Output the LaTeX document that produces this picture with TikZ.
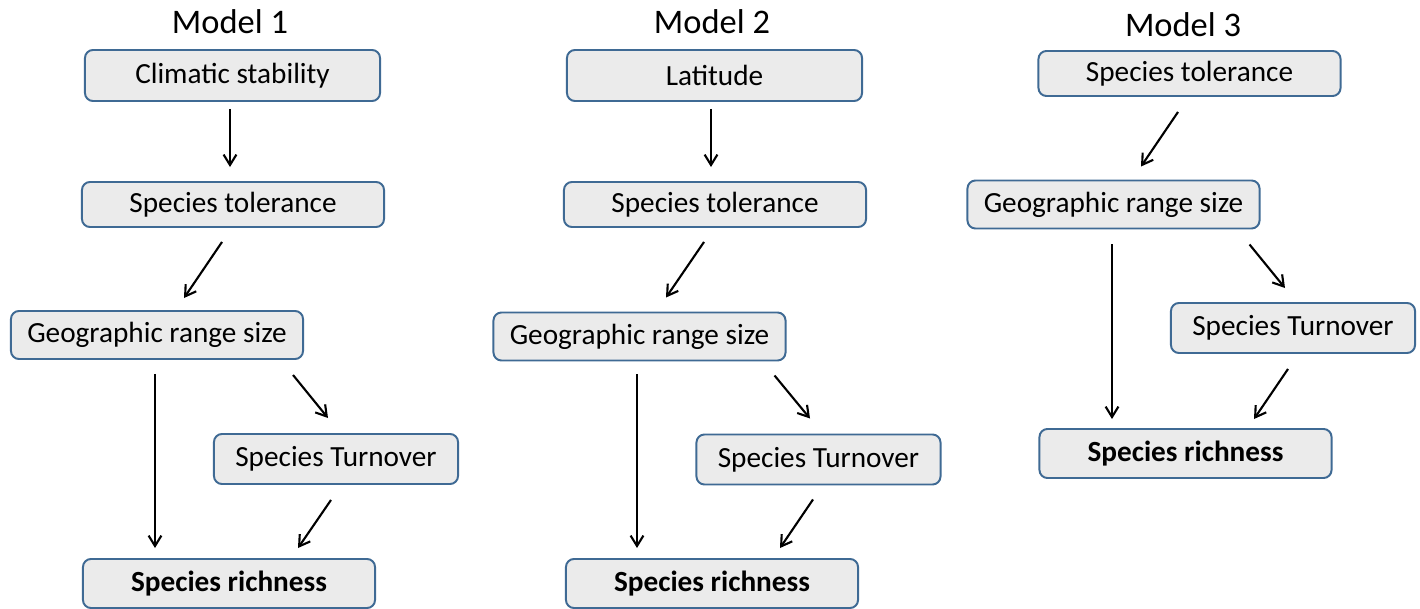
\documentclass[tikz,border=0pt]{standalone}
\usepackage{fontspec}
\setmainfont{Carlito}
\usetikzlibrary{arrows.meta}
\definecolor{boxfill}{HTML}{EBEBEB}
\definecolor{boxline}{HTML}{3F6A94}

\begin{document}
\begin{tikzpicture}[
x=0.025cm, y=-0.025cm,
var/.style={draw=boxline, fill=boxfill, line width=1.4pt, rounded corners=0.2cm,
  inner sep=0pt, font=\fontsize{20.8}{25}\selectfont}, % one variable box
tolbox/.style={var, minimum width=7.55cm, minimum height=1.125cm}, % tolerance boxes
driverbox/.style={var, minimum width=7.375cm, minimum height=1.275cm}, % first driver
rangebox/.style={var, minimum width=7.3cm, minimum height=1.2cm}, % range size boxes
turnbox/.style={var, minimum width=6.1cm, minimum height=1.25cm}, % turnover boxes
richbox/.style={var, minimum width=7.3cm, minimum height=1.225cm, font=\fontsize{20.8}{25}\selectfont\bfseries}, % response
modeltitle/.style={font=\fontsize{24.5}{29}\selectfont}, % model heading
arr/.style={line width=1.5pt, -{Straight Barb[length=2.6mm,width=3.2mm]}} % effect
]
\useasboundingbox (0,0) rectangle (1420,609);

% Model 1
\node[modeltitle] (title1) at (230,22) {Model 1};
\node[driverbox] (clim1) at (232.5,75.5) {Climatic stability};
\node[tolbox] (tol1) at (233,204.5) {Species tolerance};
\node[rangebox] (geo1) at (157,335) {Geographic range size};
\node[turnbox] (turn1) at (336,459) {Species Turnover};
\node[richbox] (rich1) at (229,583.5) {Species richness};

\draw[arr] ([shift={(-2.5,7)}]clim1.south) -- ([shift={(-3,-14)}]tol1.north);
\draw[arr] ([shift={(-11,14)}]tol1.south) -- ([shift={(27,-12)}]geo1.north);
\draw[arr] ([shift={(-2,14)}]geo1.south) -- ([shift={(-74,-10)}]rich1.north);
\draw[arr] ([shift={(-11,15)}]geo1.south east) -- ([shift={(-8,-15)}]turn1.north);
\draw[arr] ([shift={(-5,15)}]turn1.south) -- ([shift={(69,-10)}]rich1.north);

% Model 2
\node[modeltitle] (title2) at (712,22) {Model 2};
\node[driverbox] (lat2) at (714.5,75.5) {Latitude};
\node[tolbox] (tol2) at (715,204.5) {Species tolerance};
\node[rangebox] (geo2) at (639.5,336.5) {Geographic range size};
\node[turnbox] (turn2) at (818.5,459.5) {Species Turnover};
\node[richbox] (rich2) at (712,583.5) {Species richness};

\draw[arr] ([shift={(-3.5,7)}]lat2.south) -- ([shift={(-4,-14)}]tol2.north);
\draw[arr] ([shift={(-11,14)}]tol2.south) -- ([shift={(26.5,-14)}]geo2.north);
\draw[arr] ([shift={(-2.5,13)}]geo2.south) -- ([shift={(-75,-10)}]rich2.north);
\draw[arr] ([shift={(-12,14)}]geo2.south east) -- ([shift={(-8.5,-15)}]turn2.north);
\draw[arr] ([shift={(-5.5,14)}]turn2.south) -- ([shift={(68,-10)}]rich2.north);

% Model 3
\node[modeltitle] (title3) at (1183,25) {Model 3};
\node[tolbox] (tol3) at (1189.5,73.5) {Species tolerance};
\node[rangebox] (geo3) at (1113.5,204.5) {Geographic range size};
\node[turnbox] (turn3) at (1293,328) {Species Turnover};
\node[richbox] (rich3) at (1185.5,453.5) {Species richness};

\draw[arr] ([shift={(-11.5,15)}]tol3.south) -- ([shift={(27.5,-13)}]geo3.north);
\draw[arr] ([shift={(-1.5,15)}]geo3.south) -- ([shift={(-73.5,-9)}]rich3.north);
\draw[arr] ([shift={(-11,15)}]geo3.south east) -- ([shift={(-8,-14)}]turn3.north);
\draw[arr] ([shift={(-5,15)}]turn3.south) -- ([shift={(68.5,-9)}]rich3.north);

\end{tikzpicture}
\end{document}
